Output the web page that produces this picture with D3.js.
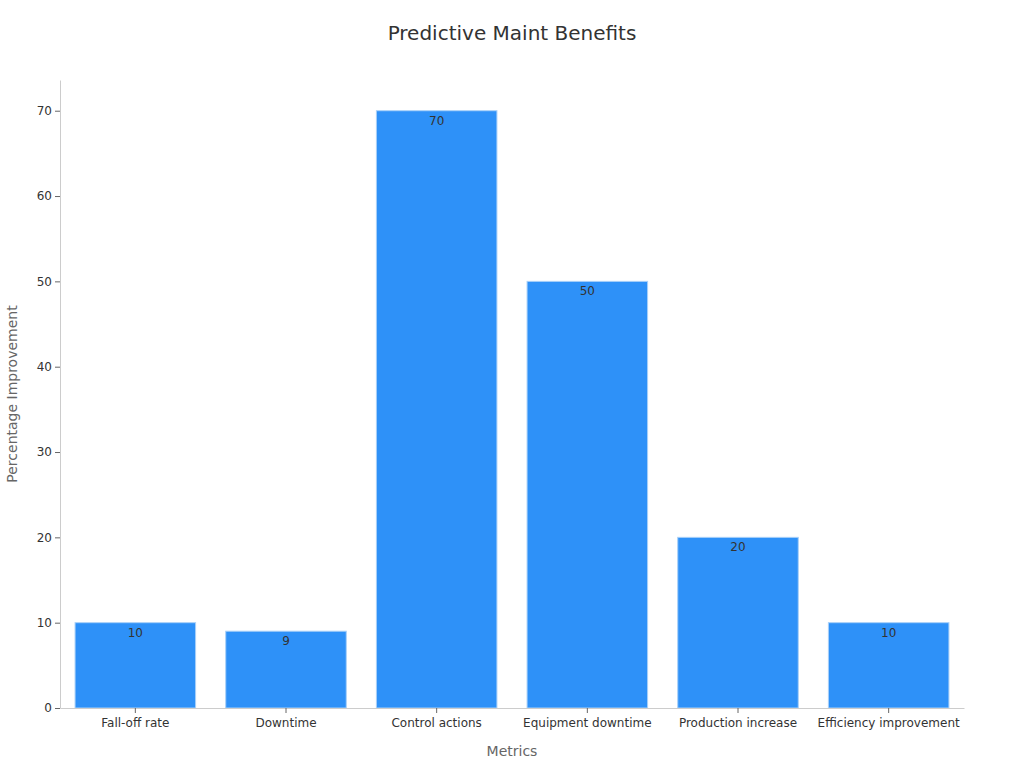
<!DOCTYPE html>
<html>
<head>
<meta charset="utf-8">
<script src="https://cdn.jsdelivr.net/npm/d3@7"></script>
<style>
  body { margin: 0; background: #fff; }
  text { font-family: "DejaVu Sans", sans-serif; }
</style>
</head>
<body>
<div id="chart"></div>
<script>
// chart data
var categories = ["Fall-off rate", "Downtime", "Control actions", "Equipment downtime", "Production increase", "Efficiency improvement"];
var values = [10, 9, 70, 50, 20, 10];
var yTicks = [0, 10, 20, 30, 40, 50, 60, 70];

var width = 1024, height = 768;
var margin = {top: 80, right: 60, bottom: 60, left: 60};

var svg = d3.select("#chart")
	.append("svg")
	.attr("width", width)
	.attr("height", height);

var x = d3.scaleBand()
	.domain(categories)
	.range([margin.left, width - margin.right])
	.paddingInner(0.2)
	.paddingOuter(0.1);

var y = d3.scaleLinear()
	.domain([0, 73.6])
	.range([height - margin.bottom, margin.top]);

// title
svg.append("text")
	.attr("x", 512)
	.attr("y", 40)
	.attr("text-anchor", "middle")
	.style("font-size", "20px")
	.style("fill", "#333")
	.text("Predictive Maint Benefits");

// bars
svg.selectAll("rect.bar")
	.data(values)
	.enter()
	.append("rect")
	.attr("class", "bar")
	.attr("x", function(d, i) { return x(categories[i]); })
	.attr("y", function(d) { return y(d); })
	.attr("width", x.bandwidth())
	.attr("height", function(d) { return y(0) - y(d); })
	.style("fill", "#2e91f8")
	.style("stroke", "#a9d0f8")
	.style("stroke-width", "1px");

// value labels
svg.selectAll("text.val")
	.data(values)
	.enter()
	.append("text")
	.attr("class", "val")
	.attr("x", function(d, i) { return x(categories[i]) + x.bandwidth() / 2; })
	.attr("y", function(d) { return y(d) + 14; })
	.attr("text-anchor", "middle")
	.style("font-size", "12px")
	.style("fill", "#333")
	.text(function(d) { return d; });

// y axis
var yAxis = svg.append("g")
	.attr("transform", "translate(" + margin.left + ",0)")
	.call(d3.axisLeft(y).tickValues(yTicks).tickSize(5).tickSizeOuter(0));
yAxis.select(".domain").style("stroke", "#ccc");
yAxis.selectAll(".tick line").style("stroke", "#666");
yAxis.selectAll(".tick text")
	.style("font-size", "12px")
	.style("fill", "#333")
	.style("font-family", "DejaVu Sans, sans-serif");

// x axis
var xAxis = svg.append("g")
	.attr("transform", "translate(0," + y(0) + ")")
	.call(d3.axisBottom(x).tickSize(5).tickSizeOuter(0));
xAxis.select(".domain").style("stroke", "#ccc");
xAxis.selectAll(".tick line").style("stroke", "#666");
xAxis.selectAll(".tick text")
	.attr("dy", "0.95em")
	.style("font-size", "12px")
	.style("fill", "#333")
	.style("font-family", "DejaVu Sans, sans-serif");

// axis titles
svg.append("text")
	.attr("x", (margin.left + width - margin.right) / 2)
	.attr("y", 756)
	.attr("text-anchor", "middle")
	.style("font-size", "14px")
	.style("fill", "#666")
	.text("Metrics");

svg.append("text")
	.attr("transform", "translate(17," + ((margin.top + height - margin.bottom) / 2) + ") rotate(-90)")
	.attr("text-anchor", "middle")
	.style("font-size", "14px")
	.style("fill", "#666")
	.text("Percentage Improvement");
</script>
</body>
</html>
